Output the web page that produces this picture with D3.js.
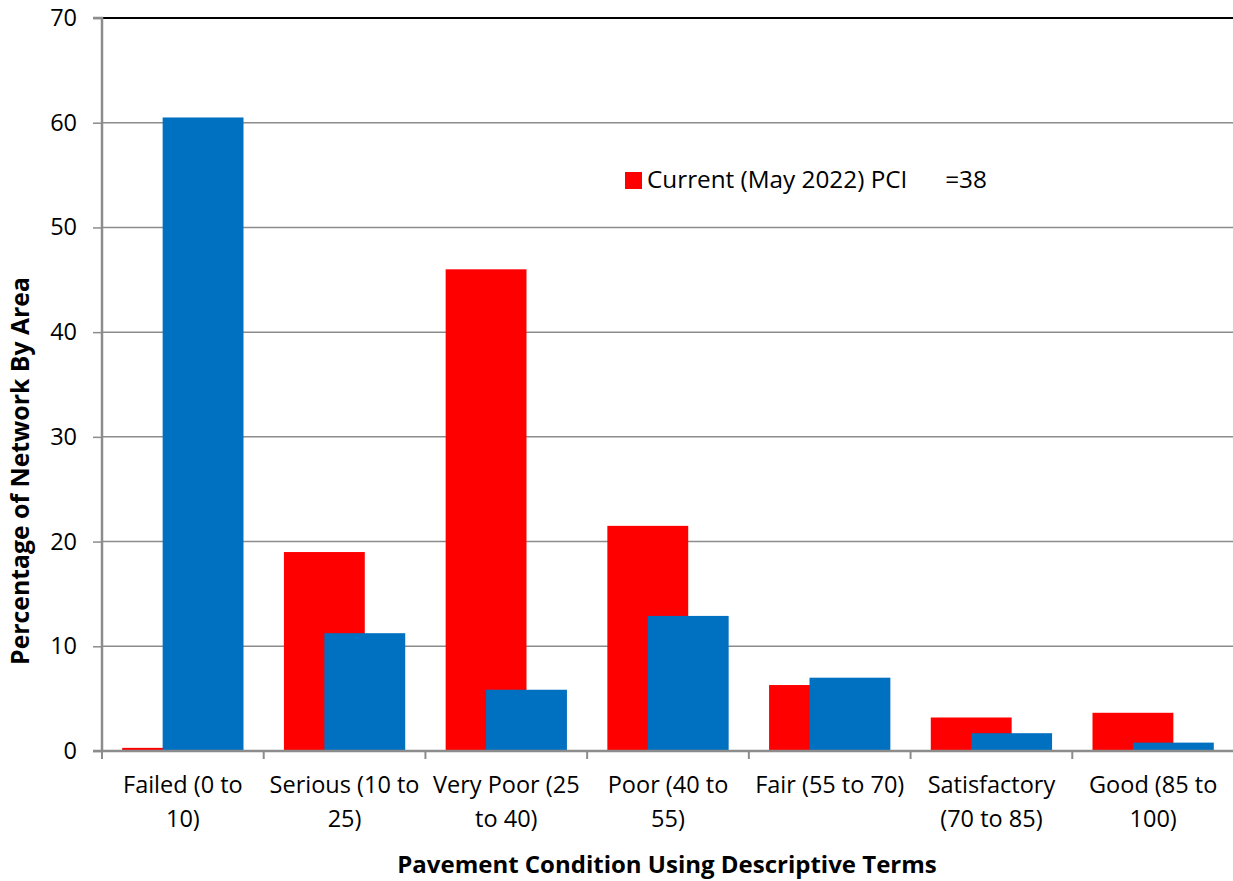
<!DOCTYPE html>
<html>
<head>
<meta charset="utf-8">
<script src="https://cdn.jsdelivr.net/npm/d3@7"></script>
<style>
  html, body { margin: 0; padding: 0; background: #fff; }
  svg { display: block; }
  text { font-family: "Open Sans", sans-serif; fill: #000; }
</style>
</head>
<body>
<svg id="chart" width="1233" height="881"></svg>
<script>
const categories = [
  ["Failed (0 to", "10)"],
  ["Serious (10 to", "25)"],
  ["Very Poor (25", "to 40)"],
  ["Poor (40 to", "55)"],
  ["Fair (55 to 70)"],
  ["Satisfactory", "(70 to 85)"],
  ["Good (85 to", "100)"]
];
const currentValues = [0.3, 19.0, 46.0, 21.5, 6.3, 3.2, 3.65];
const otherValues = [60.5, 11.25, 5.85, 12.9, 7.0, 1.7, 0.8];
const yTicks = [0, 10, 20, 30, 40, 50, 60, 70];
const legendLabel = "Current (May 2022) PCI\u00a0\u00a0\u00a0\u00a0\u00a0\u00a0=38";
const xTitle = "Pavement Condition Using Descriptive Terms";
const yTitle = "Percentage of Network By Area";

(function () {
const svg = d3.select("#chart");
const pL = 102, pR = 1234, pT = 18, pB = 751;

const x = d3.scaleBand().domain(d3.range(categories.length)).range([pL, pR]).padding(0);
const y = d3.scaleLinear().domain([0, 70]).range([pB, pT]);
const bw = x.bandwidth();

// gridlines
svg.append("g").selectAll("line").data(yTicks.filter(d => d > 0 && d < 70)).join("line")
  .attr("x1", pL).attr("x2", pR)
  .attr("y1", d => y(d)).attr("y2", d => y(d))
  .attr("stroke", "#8c8c8c").attr("stroke-width", 1.5);
// top border
svg.append("line").attr("x1", pL).attr("x2", pR).attr("y1", y(70)).attr("y2", y(70))
  .attr("stroke", "#000").attr("stroke-width", 2);

// bars
const gBars = svg.append("g");
gBars.selectAll("rect.cur").data(currentValues).join("rect").attr("class", "cur")
  .attr("x", (d, i) => x(i) + bw / 8)
  .attr("width", bw / 2)
  .attr("y", d => y(d))
  .attr("height", d => pB - y(d))
  .attr("fill", "#FF0000");
gBars.selectAll("rect.oth").data(otherValues).join("rect").attr("class", "oth")
  .attr("x", (d, i) => x(i) + bw * 3 / 8)
  .attr("width", bw / 2)
  .attr("y", d => y(d))
  .attr("height", d => pB - y(d))
  .attr("fill", "#0070C0");

// y axis
const yAxis = d3.axisLeft(y).tickValues(yTicks).tickSize(9).tickPadding(16).tickFormat(d3.format("d"));
const gy = svg.append("g").attr("transform", `translate(${pL},0)`).call(yAxis);
gy.select(".domain").attr("stroke", "#8c8c8c").attr("stroke-width", 2.5).attr("d", `M-9,${pT}H0V${pB}`);
gy.selectAll(".tick line").attr("stroke", "#8c8c8c").attr("stroke-width", 1.5);
gy.selectAll(".tick text").style("font-size", "23.5px").style("font-family", "'Open Sans', sans-serif").attr("fill", "#000");

// x axis
const xb = d3.scaleLinear().domain([0, categories.length]).range([pL, pR]);
const gx = svg.append("g").attr("transform", `translate(0,${pB})`);
gx.append("line").attr("x1", pL - 9).attr("x2", pR).attr("stroke", "#8c8c8c").attr("stroke-width", 2.5);
gx.selectAll("line.tk").data(d3.range(categories.length + 1)).join("line").attr("class", "tk")
  .attr("x1", d => xb(d)).attr("x2", d => xb(d)).attr("y1", 0).attr("y2", 8)
  .attr("stroke", "#8c8c8c").attr("stroke-width", 2);
gx.selectAll("text.cat").data(categories).join("text").attr("class", "cat")
  .attr("text-anchor", "middle")
  .attr("transform", (d, i) => `translate(${x(i) + bw / 2},0)`)
  .style("font-size", "23.5px")
  .selectAll("tspan").data(d => d).join("tspan")
  .attr("x", 0).attr("y", (d, j) => 42 + j * 34)
  .text(d => d);

// axis titles
svg.append("text").attr("x", 667).attr("y", 873).attr("text-anchor", "middle")
  .style("font-size", "24px").style("font-weight", "bold").text(xTitle);
svg.append("text").attr("transform", "translate(29,471) rotate(-90)").attr("text-anchor", "middle")
  .style("font-size", "24.8px").style("font-weight", "bold").text(yTitle);

// legend
svg.append("rect").attr("x", 625).attr("y", 172).attr("width", 17).attr("height", 17).attr("fill", "#FF0000");
svg.append("text").attr("x", 647).attr("y", 188).style("font-size", "24.3px").text(legendLabel);
})();
</script>
</body>
</html>
